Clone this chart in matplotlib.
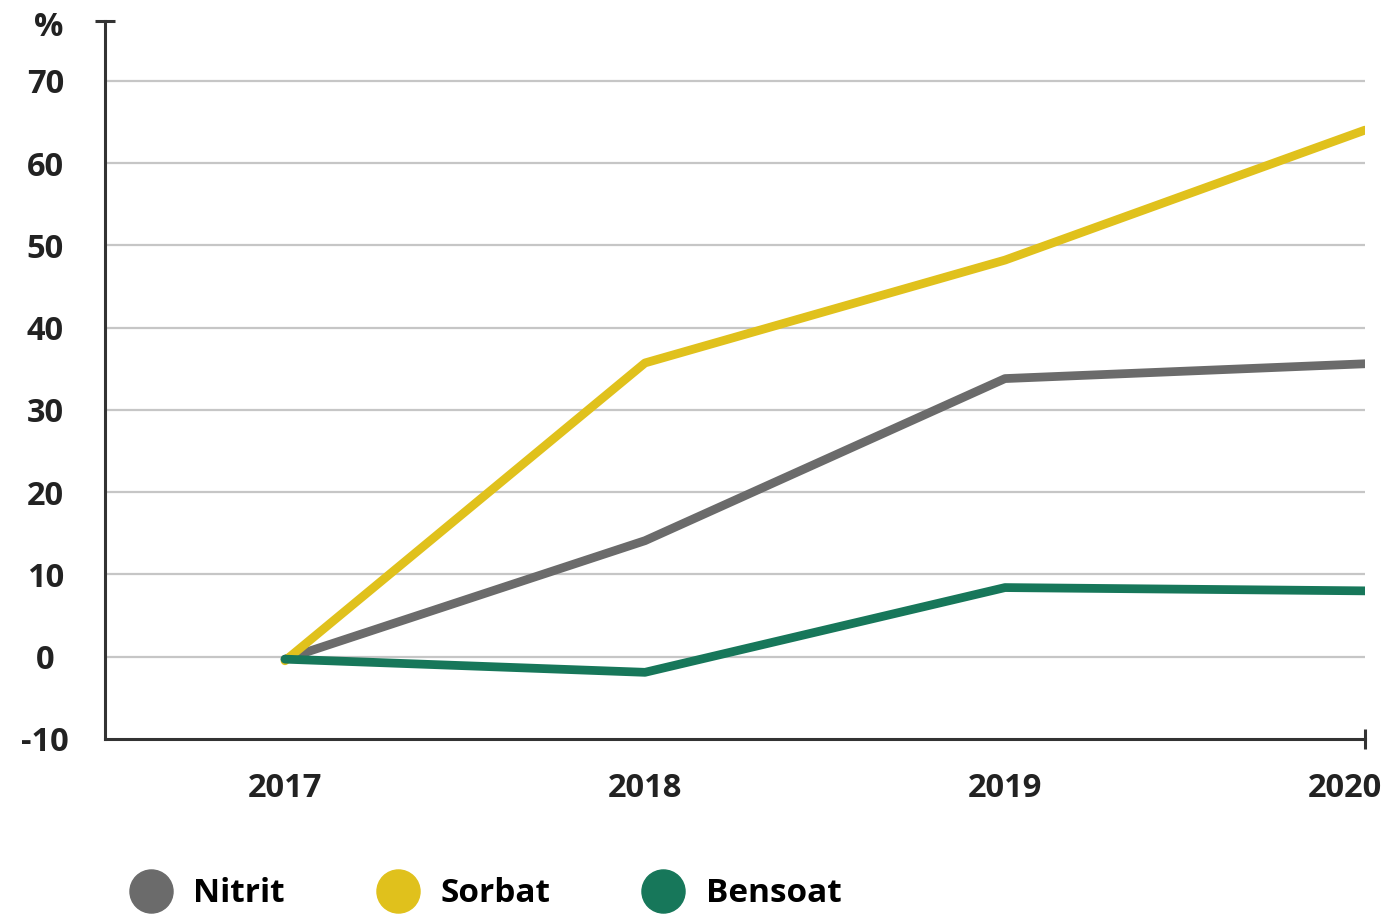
import matplotlib.pyplot as plt
from matplotlib.lines import Line2D
from matplotlib.transforms import ScaledTranslation

plt.rcParams['font.family'] = ['Open Sans', 'DejaVu Sans']
plt.rcParams['font.weight'] = 'bold'

# Yearly change in percent since 2017
years = [2017, 2018, 2019, 2020]
nitrit = [-0.3, 14.1, 33.8, 35.6]
sorbat = [-0.5, 35.7, 48.2, 64.0]
bensoat = [-0.3, -1.9, 8.4, 8.0]

series = [('Nitrit', nitrit, '#6b6b6b'),
          ('Sorbat', sorbat, '#e0c11c'),
          ('Bensoat', bensoat, '#17775a')]

y_ticks = [-10, 0, 10, 20, 30, 40, 50, 60, 70]

fig = plt.figure(figsize=(14, 9.14), dpi=100)
ax = fig.add_axes([0.075, 0.1915, 0.9, 0.785])

for name, vals, col in series:
    ax.plot(years, vals, color=col, lw=6.3, solid_capstyle='round',
            solid_joinstyle='round', label=name, zorder=3)

ax.set_xlim(2016.5, 2020)
ax.set_ylim(-10, 77.2)

# horizontal grid lines, skipping the bottom one that sits on the axis
for v in y_ticks[1:]:
    ax.axhline(v, color='#c6c6c6', lw=1.6, zorder=1)

for s in ['top', 'right']:
    ax.spines[s].set_visible(False)
for s in ['left', 'bottom']:
    ax.spines[s].set_color('#333333')
    ax.spines[s].set_linewidth(2.2)

ax.set_yticks(y_ticks)
ax.set_yticklabels([str(v) for v in y_ticks], fontsize=23.5, color='#222222')
ax.set_xticks(years)
ax.set_xticklabels([str(y) for y in years], fontsize=23.5, color='#222222')
ax.tick_params(axis='both', length=0)
ax.tick_params(axis='y', pad=43)
ax.tick_params(axis='x', pad=24)
for lab in ax.get_yticklabels():
    lab.set_horizontalalignment('center')
# the last year label is pulled in so it stays on the canvas
last = ax.get_xticklabels()[-1]
last.set_transform(last.get_transform() +
                   ScaledTranslation(-0.2, 0, fig.dpi_scale_trans))

# end caps on the axes
ax.plot([0], [1], marker='_', markersize=14, mew=2.2, color='#333333',
        transform=ax.transAxes, clip_on=False)
ax.plot([1], [0], marker='|', markersize=14, mew=2.2, color='#333333',
        transform=ax.transAxes, clip_on=False)

ax.text(-0.045, 0.992, '%', transform=ax.transAxes, fontsize=23.5,
        color='#222222', ha='center', va='center')

handles = [Line2D([], [], ls='none', marker='o', markersize=31,
                  markerfacecolor=c, markeredgecolor=c, label=n)
           for n, _, c in series]
fig.legend(handles=handles, loc='center left', bbox_to_anchor=(0.073, 0.022),
           ncol=3, frameon=False, fontsize=24, handletextpad=0.72,
           columnspacing=2.85, handlelength=1.1)

fig.savefig('out.png', dpi=100, facecolor='white')
